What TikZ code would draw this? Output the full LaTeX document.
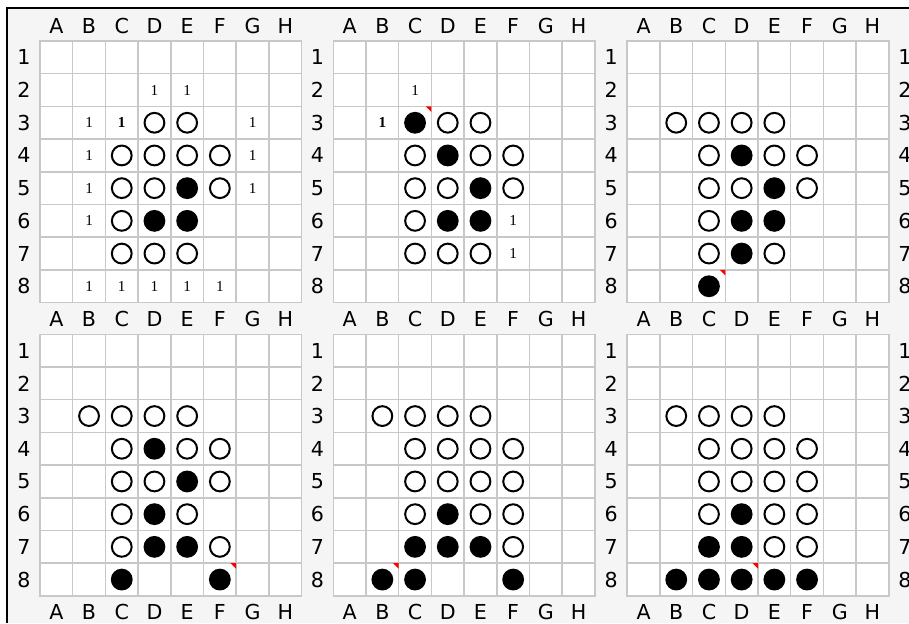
\documentclass[tikz,border=0pt]{standalone}
\usepackage{fontspec}
\setmainfont{DejaVu Sans}
\newfontfamily\hintfont{Liberation Serif}
\usetikzlibrary{calc}
\definecolor{boardbg}{HTML}{F5F5F5}
\definecolor{gridgray}{HTML}{C8C8C8}
\newcommand\cellsz{32.7}
% one board: name, left edge, top edge (px)
\newcommand\othboard[3]{%
  \begin{scope}[shift={(#2,#3)}]
    \fill[white] (0,0) rectangle (8*\cellsz,8*\cellsz);
    \foreach \k in {0,...,8} {
      \draw[gridline] (\k*\cellsz,0) -- (\k*\cellsz,8*\cellsz);
      \draw[gridline] (0,\k*\cellsz) -- (8*\cellsz,\k*\cellsz);
    }
    \foreach \c [count=\i] in {A,...,H} {
      \node[collabel] (#1-top\c) at ({(\i-0.5)*\cellsz},-15) {\c};
      \foreach \r in {1,...,8}
        \coordinate (#1-\c\r) at ({(\i-0.5)*\cellsz},{(\r-0.5)*\cellsz});
    }
    \foreach \r in {1,...,8}
      \node[rowlabel] (#1-left\r) at (-16,{(\r-0.5)*\cellsz}) {\r};
  \end{scope}}
% discs of one colour on a board
\newcommand\discs[3]{%
  \foreach \s in {#3}
    \node[#2] (#1-#2\s) at (#1-\s) {};}
% small red corner of the last move
\newcommand\lastmove[2]{%
  \fill[lastred] ($(#1-#2)+(16.35,-16.35)$) -- ++(-5.5,0) -- ++(5.5,5.5) -- cycle;}

\begin{document}
\begin{tikzpicture}[
    x=0.5pt, y=-0.5pt,
    gridline/.style={gridgray, line width=0.75pt, line cap=rect},
    collabel/.style={inner sep=0pt, font=\fontsize{10.3}{11}\selectfont},
    rowlabel/.style={collabel},
    wd/.style={circle, draw=black, line width=1pt, fill=white,
               minimum size=9.9pt, inner sep=0pt},
    bd/.style={wd, fill=black},
    hint/.style={inner sep=0pt, font=\hintfont\fontsize{7.6}{8}\selectfont},
    boldhint/.style={hint, font=\hintfont\bfseries\fontsize{7.6}{8}\selectfont},
    lastred/.style={fill=red},
]
\useasboundingbox (0,0) rectangle (909,623);
\fill[white] (0,0) rectangle (909,623);
\fill[boardbg] (7,8) rectangle (909,623);

\othboard{p1}{40}{41}
\othboard{p2}{333.3}{41}
\othboard{p3}{627.2}{41}
\othboard{p4}{40}{334.3}
\othboard{p5}{333.3}{334.3}
\othboard{p6}{627.2}{334.3}

% letters under the lower boards, numbers right of the last column
\foreach \c in {A,...,H} {
  \node[collabel] (p4-bot\c) at ($(p4-\c8)+(0,32.4)$) {\c};
  \node[collabel] (p5-bot\c) at ($(p5-\c8)+(0,32.4)$) {\c};
  \node[collabel] (p6-bot\c) at ($(p6-\c8)+(0,32.4)$) {\c};
}
\foreach \r in {1,...,8} {
  \node[rowlabel] (p3-right\r) at ($(p3-H\r)+(32.4,0)$) {\r};
  \node[rowlabel] (p6-right\r) at ($(p6-H\r)+(32.4,0)$) {\r};
}

% board 1
\discs{p1}{wd}{D3,E3,C4,D4,E4,F4,C5,D5,F5,C6,C7,D7,E7}
\discs{p1}{bd}{E5,D6,E6}
\foreach \s in {D2,E2,B3,G3,B4,G4,B5,G5,B6,B8,C8,D8,E8,F8}
  \node[hint] (p1-h\s) at (p1-\s) {1};
\node[boldhint] (p1-hC3) at (p1-C3) {1};

% board 2
\discs{p2}{wd}{D3,E3,C4,E4,F4,C5,D5,F5,C6,C7,D7,E7}
\discs{p2}{bd}{C3,D4,E5,D6,E6}
\foreach \s in {C2,F6,F7}
  \node[hint] (p2-h\s) at (p2-\s) {1};
\node[boldhint] (p2-hB3) at (p2-B3) {1};
\lastmove{p2}{C3}

% board 3
\discs{p3}{wd}{B3,C3,D3,E3,C4,E4,F4,C5,D5,F5,C6,C7,E7}
\discs{p3}{bd}{D4,E5,D6,E6,D7,C8}
\lastmove{p3}{C8}

% board 4
\discs{p4}{wd}{B3,C3,D3,E3,C4,E4,F4,C5,D5,F5,C6,E6,C7,F7}
\discs{p4}{bd}{D4,E5,D6,D7,E7,C8,F8}
\lastmove{p4}{F8}

% board 5
\discs{p5}{wd}{B3,C3,D3,E3,C4,D4,E4,F4,C5,D5,E5,F5,C6,E6,F6,F7}
\discs{p5}{bd}{D6,C7,D7,E7,B8,C8,F8}
\lastmove{p5}{B8}

% board 6
\discs{p6}{wd}{B3,C3,D3,E3,C4,D4,E4,F4,C5,D5,E5,F5,C6,E6,F6,E7,F7}
\discs{p6}{bd}{D6,C7,D7,B8,C8,D8,E8,F8}
\lastmove{p6}{D8}

\draw[black, line width=0.6pt] (7,623) -- (7,8) -- (909,8);
\end{tikzpicture}
\end{document}
